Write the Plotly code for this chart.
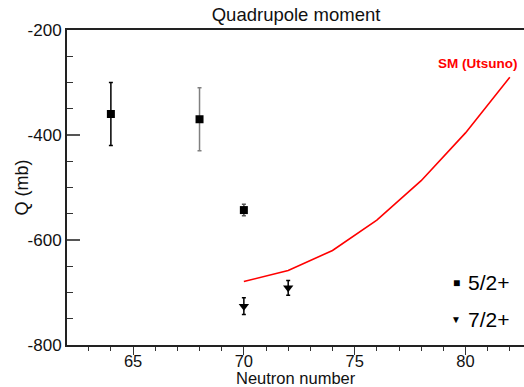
import plotly.graph_objects as go

# Data
n_52 = [64, 68, 70]
q_52 = [-360, -370, -543]
err_52 = [60, 60, 11]

n_72 = [70, 72]
q_72 = [-726, -691]
err_72 = [16, 14]

n_sm = [70, 72, 74, 76, 78, 80, 82]
q_sm = [-679, -658, -620, -562, -487, -396, -290]

y_ticks = [-800, -600, -400, -200]
y_ticklabels = ["-800", "-600", "-400", "-200"]
x_ticks = [65, 70, 75, 80]
x_ticklabels = ["65", "70", "75", "80"]

FONT = "Liberation Sans, Arial, sans-serif"
err_colors_52 = ["#000000", "#808080", "#555555"]

fig = go.Figure()

fig.add_trace(go.Scatter(x=n_sm, y=q_sm, mode="lines",
                         line=dict(color="#ff0000", width=1.6),
                         showlegend=False, hoverinfo="skip"))

for i in range(len(n_52)):
    fig.add_trace(go.Scatter(
        x=[n_52[i]], y=[q_52[i]], mode="markers",
        marker=dict(symbol="square", size=8, color="black"),
        error_y=dict(type="data", array=[err_52[i]], visible=True,
                     color=err_colors_52[i], thickness=1.5, width=2),
        showlegend=False))

fig.add_trace(go.Scatter(
    x=n_72, y=q_72, mode="markers",
    marker=dict(symbol="triangle-down", size=9, color="black"),
    error_y=dict(type="data", array=err_72, visible=True,
                 color="#000000", thickness=1.5, width=2),
    showlegend=False))

# legend entries
fig.add_annotation(x=0.852, y=0.1975, xref="paper", yref="paper",
                   text="■", showarrow=False, font=dict(size=12, color="black", family=FONT),
                   xanchor="center", yanchor="middle")
fig.add_annotation(x=0.872, y=0.1975, xref="paper", yref="paper",
                   text="5/2+", showarrow=False, font=dict(size=21, color="black", family=FONT),
                   xanchor="left", yanchor="middle")
fig.add_annotation(x=0.852, y=0.08, xref="paper", yref="paper",
                   text="▼", showarrow=False, font=dict(size=10, color="black", family=FONT),
                   xanchor="center", yanchor="middle")
fig.add_annotation(x=0.872, y=0.08, xref="paper", yref="paper",
                   text="7/2+", showarrow=False, font=dict(size=21, color="black", family=FONT),
                   xanchor="left", yanchor="middle")

fig.add_annotation(x=0.898, y=0.893, xref="paper", yref="paper",
                   text="<b>SM (Utsuno)</b>", showarrow=False,
                   font=dict(size=13.5, color="#ff0000", family=FONT),
                   xanchor="center", yanchor="middle")

# axis titles
fig.add_annotation(x=0.5, y=0, xref="paper", yref="paper", yshift=-33,
                   text="Neutron number", showarrow=False,
                   font=dict(size=16.5, color="#111", family=FONT),
                   xanchor="center", yanchor="middle")
fig.add_annotation(x=0, y=0.5, xref="paper", yref="paper", xshift=-46,
                   text="Q (mb)", showarrow=False, textangle=-90,
                   font=dict(size=18, color="#111", family=FONT),
                   xanchor="center", yanchor="middle")

fig.update_layout(
    width=524, height=387,
    margin=dict(l=67, r=0, t=30, b=42, autoexpand=False),
    paper_bgcolor="white", plot_bgcolor="white",
    font=dict(family=FONT, color="#111"),
    title=dict(text="Quadrupole moment", x=0.565, xanchor="center",
               y=0.963, yanchor="middle", font=dict(size=18.5, color="#111", family=FONT)),
    showlegend=False,
)

fig.update_xaxes(
    range=[62.02, 82.64], showgrid=False, zeroline=False,
    showline=True, linecolor="#222", linewidth=2, mirror=True,
    tickmode="array", tickvals=x_ticks, ticktext=x_ticklabels,
    ticks="outside", ticklen=8, tickwidth=1, tickcolor="#333",
    ticklabelstandoff=-8,
    tickfont=dict(size=16.5, color="#111", family=FONT),
    minor=dict(dtick=1, tick0=0, ticks="outside", ticklen=4, tickwidth=1, tickcolor="#333"),
)
fig.update_yaxes(
    range=[-800, -200], showgrid=False, zeroline=False,
    showline=True, linecolor="#222", linewidth=2,
    tickmode="array", tickvals=y_ticks, ticktext=y_ticklabels,
    ticks="inside", ticklen=13, tickwidth=2, tickcolor="#555",
    tickfont=dict(size=17, color="#111", family=FONT),
    minor=dict(dtick=50, tick0=0, ticks="inside", ticklen=6, tickwidth=1, tickcolor="#333"),
)

fig.write_html("out.html",
               config={"displayModeBar": False},
               post_script="document.body.style.margin='0';document.body.style.overflow='hidden';")
